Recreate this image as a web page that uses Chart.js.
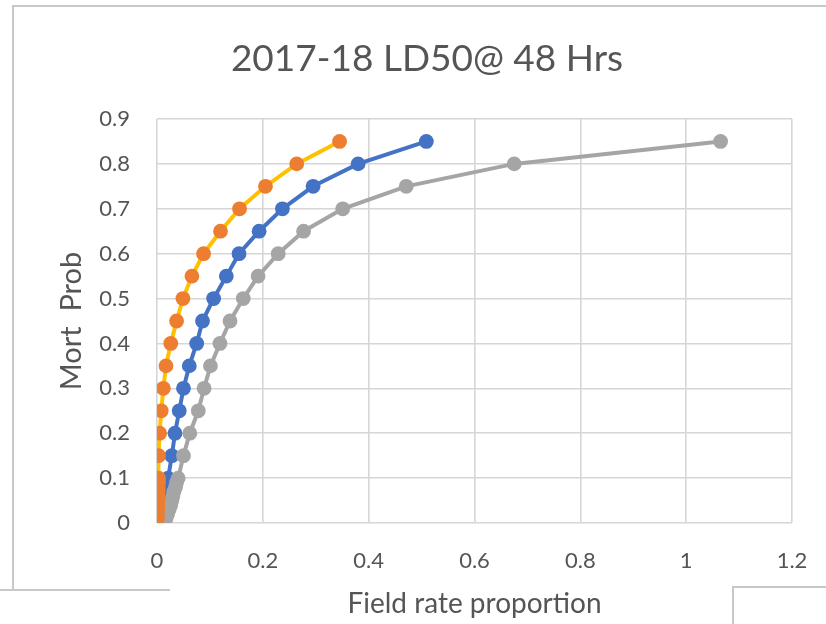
<!DOCTYPE html>
<html><head><meta charset="utf-8">
<script src="https://cdn.jsdelivr.net/npm/chart.js@4.4.1/dist/chart.umd.min.js"></script>
<style>html,body{margin:0;padding:0;background:#fff;}canvas{display:block}</style>
</head><body>
<canvas id="c" width="826" height="624"></canvas>
<script>
const chartTitle = '2017-18 LD50@ 48 Hrs';
const xAxisTitle = 'Field rate proportion';
const yAxisTitle = 'Mort  Prob';
const mortProb = [0.01,0.02,0.03,0.04,0.05,0.06,0.07,0.08,0.09,0.10,0.15,0.20,0.25,0.30,0.35,0.40,0.45,0.50,0.55,0.60,0.65,0.70,0.75,0.80,0.85];
const rateOrange = [0.0005,0.0008,0.0011,0.0014,0.0017,0.002,0.0022,0.0025,0.0028,0.003,0.003,0.005,0.008,0.012,0.017,0.026,0.037,0.049,0.066,0.088,0.120,0.156,0.205,0.264,0.345];
const rateBlue = [0.010,0.011,0.012,0.013,0.014,0.015,0.017,0.018,0.019,0.021,0.028,0.034,0.042,0.050,0.061,0.075,0.086,0.107,0.131,0.155,0.193,0.237,0.295,0.380,0.509];
const rateGray = [0.017,0.020,0.023,0.026,0.028,0.030,0.032,0.035,0.037,0.040,0.050,0.062,0.078,0.089,0.101,0.119,0.138,0.163,0.191,0.229,0.277,0.351,0.471,0.675,1.065];
const xTickMin = 0, xTickMax = 1.2, xTickStep = 0.2;
const yTickMin = 0, yTickMax = 0.9, yTickStep = 0.1;

const FONT = 'Lato';
const TXT = '#555555';

function pts(xs){ return xs.map((x,i)=>({x:x, y:mortProb[i]})); }

const framePlugin = {
  id:'frame',
  beforeDraw(chart){
    const c = chart.ctx;
    c.save();
    c.fillStyle = '#fff';
    c.fillRect(0,0,chart.width,chart.height);
    c.strokeStyle = '#c8c8c8';
    c.lineWidth = 2;
    c.beginPath();
    c.moveTo(826,6); c.lineTo(13,6); c.lineTo(13,590);
    c.moveTo(0,590); c.lineTo(170,590);
    c.moveTo(826,587); c.lineTo(733,587); c.lineTo(733,624);
    c.stroke();
    c.restore();
  }
};
const titlePlugin = {
  id:'ttl',
  afterDraw(chart){
    const c = chart.ctx;
    c.save();
    c.font = '37px ' + FONT;
    c.fillStyle = TXT;
    c.textAlign = 'center';
    c.textBaseline = 'middle';
    c.fillText(chartTitle, 427, 59);
    c.restore();
  }
};

function ds(label, xs, line, mark){
  return {label:label, data:pts(xs), showLine:true, borderColor:line, borderWidth:4, backgroundColor:mark,
          pointBackgroundColor:mark, pointBorderColor:mark, pointRadius:7.4, pointBorderWidth:0};
}

function make(){
  new Chart(document.getElementById('c'), {
    type:'scatter',
    data:{ datasets:[
      ds('A', rateOrange, '#FFC000', '#ED7D31'),
      ds('C', rateGray, '#A5A5A5', '#A5A5A5'),
      ds('B', rateBlue, '#4472C4', '#4472C4')
    ]},
    options:{
      responsive:false, animation:false, devicePixelRatio:1,
      layout:{autoPadding:false, padding:{top:119,right:34,left:0,bottom:0}},
      plugins:{legend:{display:false}, tooltip:{enabled:false}, title:{display:false}},
      scales:{
        x:{type:'linear', min:xTickMin, max:xTickMax,
           ticks:{stepSize:xTickStep, color:TXT, font:{family:FONT,size:22}, padding:25, callback:v=>String(+v.toFixed(1))},
           grid:{color:'#d6d6d6', lineWidth:1.6, drawTicks:false},
           border:{display:false},
           title:{display:true, text:xAxisTitle, color:TXT, font:{family:FONT,size:28}, padding:{top:0,bottom:3}},
           afterFit(s){ s.height = 101; s.paddingLeft = 0; s.paddingRight = 0; }
        },
        y:{type:'linear', min:yTickMin, max:yTickMax,
           ticks:{stepSize:yTickStep, color:TXT, font:{family:FONT,size:22}, padding:27, callback:v=>String(+v.toFixed(1))},
           grid:{color:'#d6d6d6', lineWidth:1.6, drawTicks:false},
           border:{display:false},
           title:{display:true, text:yAxisTitle, color:TXT, font:{family:FONT,size:29}, padding:{top:54,bottom:0}},
           afterFit(s){ s.width = 157; s.paddingTop = 0; s.paddingBottom = 0; }
        }
      }
    },
    plugins:[framePlugin, titlePlugin]
  });
}
if (document.fonts && document.fonts.load) {
  Promise.all([document.fonts.load('22px Lato'), document.fonts.load('37px Lato')]).then(make, make);
} else make();
</script>
</body></html>
